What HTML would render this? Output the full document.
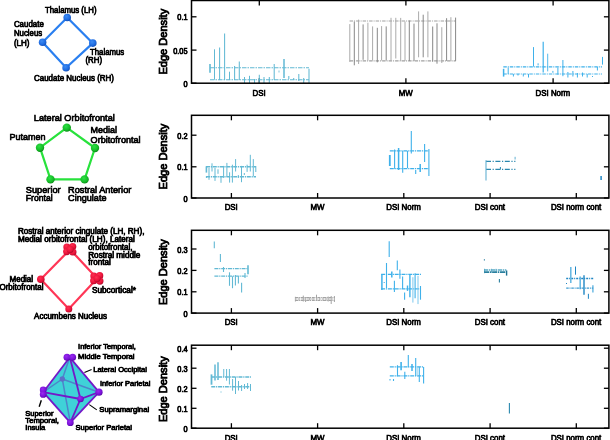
<!DOCTYPE html><html><head><meta charset="utf-8"><style>html,body{margin:0;padding:0;background:#fff;}svg{display:block;will-change:transform;}text{font-family:"Liberation Sans", sans-serif;stroke:#000;stroke-width:0.72px;paint-order:stroke;}</style></head><body>
<svg width="610" height="440" viewBox="0 0 610 440">
<rect width="610" height="440" fill="#fff"/>
<line x1="191.5" y1="83.2" x2="196.5" y2="83.2" stroke="#000" stroke-width="1.3"/><line x1="608.9" y1="83.2" x2="603.9" y2="83.2" stroke="#000" stroke-width="1.3"/><text x="187.6" y="86.7" font-size="8.6" text-anchor="end" textLength="4.1" lengthAdjust="spacingAndGlyphs" fill="#000">0</text><line x1="191.5" y1="50.1" x2="196.5" y2="50.1" stroke="#000" stroke-width="1.3"/><line x1="608.9" y1="50.1" x2="603.9" y2="50.1" stroke="#000" stroke-width="1.3"/><text x="187.6" y="53.6" font-size="8.6" text-anchor="end" textLength="14.4" lengthAdjust="spacingAndGlyphs" fill="#000">0.05</text><line x1="191.5" y1="16.8" x2="196.5" y2="16.8" stroke="#000" stroke-width="1.3"/><line x1="608.9" y1="16.8" x2="603.9" y2="16.8" stroke="#000" stroke-width="1.3"/><text x="187.6" y="20.3" font-size="8.6" text-anchor="end" textLength="10.3" lengthAdjust="spacingAndGlyphs" fill="#000">0.1</text><line x1="259.3" y1="83.2" x2="259.3" y2="78.2" stroke="#000" stroke-width="1.3"/><line x1="259.3" y1="0.5" x2="259.3" y2="5.5" stroke="#000" stroke-width="1.3"/><text x="259.1" y="95.5" font-size="9" text-anchor="middle" textLength="13.15" lengthAdjust="spacingAndGlyphs" fill="#000">DSI</text><line x1="405.9" y1="83.2" x2="405.9" y2="78.2" stroke="#000" stroke-width="1.3"/><line x1="405.9" y1="0.5" x2="405.9" y2="5.5" stroke="#000" stroke-width="1.3"/><text x="405.7" y="95.5" font-size="9" text-anchor="middle" textLength="14.0" lengthAdjust="spacingAndGlyphs" fill="#000">MW</text><line x1="553.1" y1="83.2" x2="553.1" y2="78.2" stroke="#000" stroke-width="1.3"/><line x1="553.1" y1="0.5" x2="553.1" y2="5.5" stroke="#000" stroke-width="1.3"/><text x="552.9" y="95.5" font-size="9" text-anchor="middle" textLength="34.6" lengthAdjust="spacingAndGlyphs" fill="#000">DSI Norm</text><text transform="translate(166.6 41.7) rotate(-90)" x="0" y="0" font-size="10.4" text-anchor="middle" textLength="65.8" lengthAdjust="spacingAndGlyphs" fill="#000" style="stroke-width:0.8px">Edge Density</text><line x1="191.5" y1="198.0" x2="196.5" y2="198.0" stroke="#000" stroke-width="1.3"/><line x1="608.9" y1="198.0" x2="603.9" y2="198.0" stroke="#000" stroke-width="1.3"/><text x="187.6" y="201.5" font-size="8.6" text-anchor="end" textLength="4.1" lengthAdjust="spacingAndGlyphs" fill="#000">0</text><line x1="191.5" y1="166.8" x2="196.5" y2="166.8" stroke="#000" stroke-width="1.3"/><line x1="608.9" y1="166.8" x2="603.9" y2="166.8" stroke="#000" stroke-width="1.3"/><text x="187.6" y="170.3" font-size="8.6" text-anchor="end" textLength="10.3" lengthAdjust="spacingAndGlyphs" fill="#000">0.1</text><line x1="191.5" y1="135.2" x2="196.5" y2="135.2" stroke="#000" stroke-width="1.3"/><line x1="608.9" y1="135.2" x2="603.9" y2="135.2" stroke="#000" stroke-width="1.3"/><text x="187.6" y="138.7" font-size="8.6" text-anchor="end" textLength="10.3" lengthAdjust="spacingAndGlyphs" fill="#000">0.2</text><line x1="231.4" y1="198.0" x2="231.4" y2="193.0" stroke="#000" stroke-width="1.3"/><line x1="231.4" y1="115.3" x2="231.4" y2="120.3" stroke="#000" stroke-width="1.3"/><text x="231.20000000000002" y="210.3" font-size="9" text-anchor="middle" textLength="13.15" lengthAdjust="spacingAndGlyphs" fill="#000">DSI</text><line x1="317.6" y1="198.0" x2="317.6" y2="193.0" stroke="#000" stroke-width="1.3"/><line x1="317.6" y1="115.3" x2="317.6" y2="120.3" stroke="#000" stroke-width="1.3"/><text x="317.40000000000003" y="210.3" font-size="9" text-anchor="middle" textLength="14.0" lengthAdjust="spacingAndGlyphs" fill="#000">MW</text><line x1="403.8" y1="198.0" x2="403.8" y2="193.0" stroke="#000" stroke-width="1.3"/><line x1="403.8" y1="115.3" x2="403.8" y2="120.3" stroke="#000" stroke-width="1.3"/><text x="403.6" y="210.3" font-size="9" text-anchor="middle" textLength="34.6" lengthAdjust="spacingAndGlyphs" fill="#000">DSI Norm</text><line x1="490.1" y1="198.0" x2="490.1" y2="193.0" stroke="#000" stroke-width="1.3"/><line x1="490.1" y1="115.3" x2="490.1" y2="120.3" stroke="#000" stroke-width="1.3"/><text x="489.90000000000003" y="210.3" font-size="9" text-anchor="middle" textLength="30.3" lengthAdjust="spacingAndGlyphs" fill="#000">DSI cont</text><line x1="576.3" y1="198.0" x2="576.3" y2="193.0" stroke="#000" stroke-width="1.3"/><line x1="576.3" y1="115.3" x2="576.3" y2="120.3" stroke="#000" stroke-width="1.3"/><text x="576.0999999999999" y="210.3" font-size="9" text-anchor="middle" textLength="50.4" lengthAdjust="spacingAndGlyphs" fill="#000">DSI norm cont</text><text transform="translate(166.6 156.6) rotate(-90)" x="0" y="0" font-size="10.4" text-anchor="middle" textLength="65.8" lengthAdjust="spacingAndGlyphs" fill="#000" style="stroke-width:0.8px">Edge Density</text><line x1="191.5" y1="313.1" x2="196.5" y2="313.1" stroke="#000" stroke-width="1.3"/><line x1="608.9" y1="313.1" x2="603.9" y2="313.1" stroke="#000" stroke-width="1.3"/><text x="187.6" y="316.6" font-size="8.6" text-anchor="end" textLength="4.1" lengthAdjust="spacingAndGlyphs" fill="#000">0</text><line x1="191.5" y1="291.8" x2="196.5" y2="291.8" stroke="#000" stroke-width="1.3"/><line x1="608.9" y1="291.8" x2="603.9" y2="291.8" stroke="#000" stroke-width="1.3"/><text x="187.6" y="295.3" font-size="8.6" text-anchor="end" textLength="10.3" lengthAdjust="spacingAndGlyphs" fill="#000">0.1</text><line x1="191.5" y1="270.4" x2="196.5" y2="270.4" stroke="#000" stroke-width="1.3"/><line x1="608.9" y1="270.4" x2="603.9" y2="270.4" stroke="#000" stroke-width="1.3"/><text x="187.6" y="273.9" font-size="8.6" text-anchor="end" textLength="10.3" lengthAdjust="spacingAndGlyphs" fill="#000">0.2</text><line x1="191.5" y1="249.0" x2="196.5" y2="249.0" stroke="#000" stroke-width="1.3"/><line x1="608.9" y1="249.0" x2="603.9" y2="249.0" stroke="#000" stroke-width="1.3"/><text x="187.6" y="252.5" font-size="8.6" text-anchor="end" textLength="10.3" lengthAdjust="spacingAndGlyphs" fill="#000">0.3</text><line x1="231.4" y1="313.1" x2="231.4" y2="308.1" stroke="#000" stroke-width="1.3"/><line x1="231.4" y1="230.3" x2="231.4" y2="235.3" stroke="#000" stroke-width="1.3"/><text x="231.20000000000002" y="325.40000000000003" font-size="9" text-anchor="middle" textLength="13.15" lengthAdjust="spacingAndGlyphs" fill="#000">DSI</text><line x1="317.6" y1="313.1" x2="317.6" y2="308.1" stroke="#000" stroke-width="1.3"/><line x1="317.6" y1="230.3" x2="317.6" y2="235.3" stroke="#000" stroke-width="1.3"/><text x="317.40000000000003" y="325.40000000000003" font-size="9" text-anchor="middle" textLength="14.0" lengthAdjust="spacingAndGlyphs" fill="#000">MW</text><line x1="403.8" y1="313.1" x2="403.8" y2="308.1" stroke="#000" stroke-width="1.3"/><line x1="403.8" y1="230.3" x2="403.8" y2="235.3" stroke="#000" stroke-width="1.3"/><text x="403.6" y="325.40000000000003" font-size="9" text-anchor="middle" textLength="34.6" lengthAdjust="spacingAndGlyphs" fill="#000">DSI Norm</text><line x1="490.1" y1="313.1" x2="490.1" y2="308.1" stroke="#000" stroke-width="1.3"/><line x1="490.1" y1="230.3" x2="490.1" y2="235.3" stroke="#000" stroke-width="1.3"/><text x="489.90000000000003" y="325.40000000000003" font-size="9" text-anchor="middle" textLength="30.3" lengthAdjust="spacingAndGlyphs" fill="#000">DSI cont</text><line x1="576.3" y1="313.1" x2="576.3" y2="308.1" stroke="#000" stroke-width="1.3"/><line x1="576.3" y1="230.3" x2="576.3" y2="235.3" stroke="#000" stroke-width="1.3"/><text x="576.0999999999999" y="325.40000000000003" font-size="9" text-anchor="middle" textLength="50.4" lengthAdjust="spacingAndGlyphs" fill="#000">DSI norm cont</text><text transform="translate(166.6 272.2) rotate(-90)" x="0" y="0" font-size="10.4" text-anchor="middle" textLength="65.8" lengthAdjust="spacingAndGlyphs" fill="#000" style="stroke-width:0.8px">Edge Density</text><line x1="191.5" y1="428.2" x2="196.5" y2="428.2" stroke="#000" stroke-width="1.3"/><line x1="608.9" y1="428.2" x2="603.9" y2="428.2" stroke="#000" stroke-width="1.3"/><text x="187.6" y="431.7" font-size="8.6" text-anchor="end" textLength="4.1" lengthAdjust="spacingAndGlyphs" fill="#000">0</text><line x1="191.5" y1="408.3" x2="196.5" y2="408.3" stroke="#000" stroke-width="1.3"/><line x1="608.9" y1="408.3" x2="603.9" y2="408.3" stroke="#000" stroke-width="1.3"/><text x="187.6" y="411.8" font-size="8.6" text-anchor="end" textLength="10.3" lengthAdjust="spacingAndGlyphs" fill="#000">0.1</text><line x1="191.5" y1="388.3" x2="196.5" y2="388.3" stroke="#000" stroke-width="1.3"/><line x1="608.9" y1="388.3" x2="603.9" y2="388.3" stroke="#000" stroke-width="1.3"/><text x="187.6" y="391.8" font-size="8.6" text-anchor="end" textLength="10.3" lengthAdjust="spacingAndGlyphs" fill="#000">0.2</text><line x1="191.5" y1="368.2" x2="196.5" y2="368.2" stroke="#000" stroke-width="1.3"/><line x1="608.9" y1="368.2" x2="603.9" y2="368.2" stroke="#000" stroke-width="1.3"/><text x="187.6" y="371.7" font-size="8.6" text-anchor="end" textLength="10.3" lengthAdjust="spacingAndGlyphs" fill="#000">0.3</text><line x1="191.5" y1="348.2" x2="196.5" y2="348.2" stroke="#000" stroke-width="1.3"/><line x1="608.9" y1="348.2" x2="603.9" y2="348.2" stroke="#000" stroke-width="1.3"/><text x="187.6" y="351.7" font-size="8.6" text-anchor="end" textLength="10.3" lengthAdjust="spacingAndGlyphs" fill="#000">0.4</text><line x1="231.4" y1="428.2" x2="231.4" y2="423.2" stroke="#000" stroke-width="1.3"/><line x1="231.4" y1="345.2" x2="231.4" y2="350.2" stroke="#000" stroke-width="1.3"/><text x="231.20000000000002" y="440.5" font-size="9" text-anchor="middle" textLength="13.15" lengthAdjust="spacingAndGlyphs" fill="#000">DSI</text><line x1="317.6" y1="428.2" x2="317.6" y2="423.2" stroke="#000" stroke-width="1.3"/><line x1="317.6" y1="345.2" x2="317.6" y2="350.2" stroke="#000" stroke-width="1.3"/><text x="317.40000000000003" y="440.5" font-size="9" text-anchor="middle" textLength="14.0" lengthAdjust="spacingAndGlyphs" fill="#000">MW</text><line x1="403.8" y1="428.2" x2="403.8" y2="423.2" stroke="#000" stroke-width="1.3"/><line x1="403.8" y1="345.2" x2="403.8" y2="350.2" stroke="#000" stroke-width="1.3"/><text x="403.6" y="440.5" font-size="9" text-anchor="middle" textLength="34.6" lengthAdjust="spacingAndGlyphs" fill="#000">DSI Norm</text><line x1="490.1" y1="428.2" x2="490.1" y2="423.2" stroke="#000" stroke-width="1.3"/><line x1="490.1" y1="345.2" x2="490.1" y2="350.2" stroke="#000" stroke-width="1.3"/><text x="489.90000000000003" y="440.5" font-size="9" text-anchor="middle" textLength="30.3" lengthAdjust="spacingAndGlyphs" fill="#000">DSI cont</text><line x1="576.3" y1="428.2" x2="576.3" y2="423.2" stroke="#000" stroke-width="1.3"/><line x1="576.3" y1="345.2" x2="576.3" y2="350.2" stroke="#000" stroke-width="1.3"/><text x="576.0999999999999" y="440.5" font-size="9" text-anchor="middle" textLength="50.4" lengthAdjust="spacingAndGlyphs" fill="#000">DSI norm cont</text><text transform="translate(166.6 389.2) rotate(-90)" x="0" y="0" font-size="10.4" text-anchor="middle" textLength="65.8" lengthAdjust="spacingAndGlyphs" fill="#000" style="stroke-width:0.8px">Edge Density</text>
<g stroke="#62b9d4" opacity="1"><line x1="210" y1="67.8" x2="309" y2="67.8" stroke-width="1.1" stroke-dasharray="4.5 1 1.5 1"/><line x1="210" y1="79.8" x2="309" y2="79.8" stroke-width="1.1" stroke-dasharray="4.5 1 1.5 1"/><line x1="210" y1="63.9" x2="210" y2="72.7" stroke-width="1.6"/><line x1="214.5" y1="49.3" x2="214.5" y2="79.6" stroke-width="1.05"/><line x1="219.6" y1="47.5" x2="219.6" y2="80" stroke-width="1.05"/><line x1="224.6" y1="33.5" x2="224.6" y2="80" stroke-width="1.05"/><line x1="229.5" y1="71.7" x2="229.5" y2="80" stroke-width="1.05"/><line x1="234.6" y1="66" x2="234.6" y2="80" stroke-width="1.05"/><line x1="239.3" y1="61.6" x2="239.3" y2="80" stroke-width="1.05"/><line x1="244.5" y1="77" x2="244.5" y2="83" stroke-width="1.05"/><line x1="249.5" y1="75.8" x2="249.5" y2="83" stroke-width="1.05"/><line x1="254.5" y1="79" x2="254.5" y2="83" stroke-width="1.05"/><line x1="259.3" y1="74.7" x2="259.3" y2="83" stroke-width="1.05"/><line x1="264" y1="77" x2="264" y2="83" stroke-width="1.05"/><line x1="269.3" y1="77" x2="269.3" y2="83" stroke-width="1.05"/><line x1="274.2" y1="64" x2="274.2" y2="80" stroke-width="1.05"/><line x1="279" y1="70.5" x2="279" y2="72.5" stroke-width="0.8"/><line x1="284" y1="59" x2="284" y2="78" stroke-width="1.5"/><line x1="288.8" y1="76" x2="288.8" y2="79" stroke-width="1.05"/><line x1="293.7" y1="78" x2="293.7" y2="80" stroke-width="1.05"/><line x1="298.8" y1="74" x2="298.8" y2="81" stroke-width="1.05"/><line x1="303.7" y1="78" x2="303.7" y2="83" stroke-width="1.05"/><line x1="309" y1="68.7" x2="309" y2="83" stroke-width="1.05"/></g><g stroke="#a8a8a8" opacity="1"><line x1="349.6" y1="21.0" x2="455.8" y2="21.0" stroke-width="1.2" stroke-dasharray="3.5 1 1 1" stroke="#a0a0a0"/><line x1="349.6" y1="60.8" x2="455.8" y2="60.8" stroke-width="1.2" stroke-dasharray="3.5 1 1 1" stroke="#a0a0a0"/><line x1="349.8" y1="24.1" x2="349.8" y2="61.9" stroke-width="1.0" stroke="#aaaaaa"/><line x1="354.3" y1="21.6" x2="354.3" y2="65.3" stroke-width="1.0" stroke="#878787"/><line x1="358.6" y1="19.6" x2="358.6" y2="64" stroke-width="1.0" stroke="#aaaaaa"/><line x1="363.1" y1="24.4" x2="363.1" y2="59.8" stroke-width="1.0" stroke="#878787"/><line x1="367.9" y1="22.7" x2="367.9" y2="60.5" stroke-width="1.0" stroke="#aaaaaa"/><line x1="372.6" y1="26.4" x2="372.6" y2="60.5" stroke-width="1.0" stroke="#aaaaaa"/><line x1="377.3" y1="27.8" x2="377.3" y2="62.3" stroke-width="1.0" stroke="#878787"/><line x1="381.6" y1="26.1" x2="381.6" y2="60.5" stroke-width="1.0" stroke="#aaaaaa"/><line x1="386.2" y1="26.4" x2="386.2" y2="60.5" stroke-width="1.0" stroke="#878787"/><line x1="391" y1="17.8" x2="391" y2="60.5" stroke-width="1.0" stroke="#aaaaaa"/><line x1="395.8" y1="17.8" x2="395.8" y2="58.5" stroke-width="1.0" stroke="#aaaaaa"/><line x1="400.7" y1="17.9" x2="400.7" y2="60.9" stroke-width="1.0" stroke="#aaaaaa"/><line x1="405" y1="21.5" x2="405" y2="60.9" stroke-width="1.0" stroke="#aaaaaa"/><line x1="409.3" y1="20.5" x2="409.3" y2="60.9" stroke-width="1.0" stroke="#878787"/><line x1="414" y1="23.6" x2="414" y2="60.9" stroke-width="1.0" stroke="#878787"/><line x1="418.6" y1="11.4" x2="418.6" y2="57.3" stroke-width="1.0" stroke="#aaaaaa"/><line x1="423.2" y1="14.7" x2="423.2" y2="57.3" stroke-width="1.0" stroke="#878787"/><line x1="427.9" y1="11.4" x2="427.9" y2="57.3" stroke-width="1.0" stroke="#aaaaaa"/><line x1="432.7" y1="26.5" x2="432.7" y2="61.6" stroke-width="1.0" stroke="#878787"/><line x1="437" y1="23.3" x2="437" y2="63.7" stroke-width="1.0" stroke="#878787"/><line x1="441.8" y1="27.2" x2="441.8" y2="63" stroke-width="1.0" stroke="#aaaaaa"/><line x1="446.6" y1="18.2" x2="446.6" y2="60.9" stroke-width="1.0" stroke="#878787"/><line x1="450.9" y1="17.2" x2="450.9" y2="60.9" stroke-width="1.0" stroke="#aaaaaa"/><line x1="455.6" y1="17.6" x2="455.6" y2="60.9" stroke-width="1.0" stroke="#878787"/></g><g stroke="#3fb1ea" opacity="1"><line x1="503.3" y1="66.8" x2="602" y2="66.8" stroke-width="1.2" stroke-dasharray="3.5 1 1 1"/><line x1="503.3" y1="74.0" x2="602" y2="74.0" stroke-width="1.2" stroke-dasharray="3.5 1 1 1"/><line x1="503.6" y1="68.8" x2="503.6" y2="76.6" stroke-width="1.5"/><line x1="508.2" y1="67.5" x2="508.2" y2="74" stroke-width="1.0"/><line x1="513.4" y1="74" x2="513.4" y2="76.5" stroke-width="1.0"/><line x1="518" y1="74" x2="518" y2="75.5" stroke-width="1.0"/><line x1="523.3" y1="74" x2="523.3" y2="76.5" stroke-width="1.0"/><line x1="528.5" y1="74" x2="528.5" y2="77.5" stroke-width="1.0"/><line x1="533.5" y1="47.1" x2="533.5" y2="66.6" stroke-width="1.0"/><line x1="538.1" y1="63.3" x2="538.1" y2="65.4" stroke-width="1.0"/><line x1="543.2" y1="41.8" x2="543.2" y2="72.4" stroke-width="1.2"/><line x1="547.7" y1="53.7" x2="547.7" y2="71.4" stroke-width="0.9"/><line x1="552.9" y1="70.9" x2="552.9" y2="72.8" stroke-width="1.0"/><line x1="557.9" y1="67.6" x2="557.9" y2="74.7" stroke-width="1.0"/><line x1="562.9" y1="60" x2="562.9" y2="76.2" stroke-width="1.0"/><line x1="567.9" y1="72" x2="567.9" y2="77.5" stroke-width="1.0"/><line x1="572.9" y1="71" x2="572.9" y2="76.5" stroke-width="1.0"/><line x1="577.4" y1="73" x2="577.4" y2="77.5" stroke-width="1.0"/><line x1="582.5" y1="72.5" x2="582.5" y2="76.5" stroke-width="1.0"/><line x1="587.2" y1="74" x2="587.2" y2="77.5" stroke-width="1.0"/><line x1="592.5" y1="76" x2="592.5" y2="77" stroke-width="1.0"/><line x1="597.4" y1="67" x2="597.4" y2="70.5" stroke-width="1.0"/><line x1="602.5" y1="56.9" x2="602.5" y2="64.6" stroke-width="1.0"/></g><g stroke="#62b9d4" opacity="1"><line x1="206" y1="166.7" x2="256" y2="166.7" stroke-width="1.4" stroke-dasharray="4 0.8 1.2 0.8"/><line x1="206" y1="176.7" x2="256" y2="176.7" stroke-width="1.4" stroke-dasharray="4 0.8 1.2 0.8"/><line x1="206.4" y1="166.3" x2="206.4" y2="172.6" stroke-width="1.6"/><line x1="206.4" y1="176" x2="206.4" y2="178" stroke-width="1.0"/><line x1="209" y1="168" x2="209" y2="179.8" stroke-width="1.0"/><line x1="212" y1="163.3" x2="212" y2="171.5" stroke-width="1.0"/><line x1="215" y1="168" x2="215" y2="180.9" stroke-width="1.0"/><line x1="218" y1="169.3" x2="218" y2="173.8" stroke-width="1.0"/><line x1="221" y1="176" x2="221" y2="182.8" stroke-width="1.0"/><line x1="223.6" y1="165.9" x2="223.6" y2="177.9" stroke-width="1.0"/><line x1="226.9" y1="162.9" x2="226.9" y2="176.75" stroke-width="1.0"/><line x1="229.6" y1="172.3" x2="229.6" y2="182.6" stroke-width="1.0"/><line x1="232.4" y1="164.7" x2="232.4" y2="182.6" stroke-width="1.0"/><line x1="235.6" y1="159.1" x2="235.6" y2="171.5" stroke-width="1.0"/><line x1="238.3" y1="175" x2="238.3" y2="178" stroke-width="1.0"/><line x1="241.5" y1="165.9" x2="241.5" y2="182.2" stroke-width="1.0"/><line x1="244.3" y1="173" x2="244.3" y2="175" stroke-width="1.0"/><line x1="247.1" y1="164.7" x2="247.1" y2="171.9" stroke-width="1.0"/><line x1="250.3" y1="154.8" x2="250.3" y2="171.5" stroke-width="1.0"/><line x1="253.3" y1="159.1" x2="253.3" y2="176.25" stroke-width="1.0"/><line x1="255.8" y1="166" x2="255.8" y2="172" stroke-width="1.0"/></g><g stroke="#3fb1ea" opacity="1"><line x1="389.8" y1="150.9" x2="428.9" y2="150.9" stroke-width="1.3" stroke-dasharray="4 0.8 1.2 0.8"/><line x1="389.8" y1="168.7" x2="428.9" y2="168.7" stroke-width="1.3" stroke-dasharray="4 0.8 1.2 0.8"/><line x1="389.8" y1="155" x2="389.8" y2="166" stroke-width="1.8"/><line x1="394.6" y1="149.5" x2="394.6" y2="168.7" stroke-width="1.1"/><line x1="398.6" y1="148" x2="398.6" y2="170" stroke-width="1.5"/><line x1="402.7" y1="151" x2="402.7" y2="172.7" stroke-width="1.1"/><line x1="407.5" y1="151" x2="407.5" y2="168" stroke-width="1.1"/><line x1="411.3" y1="131" x2="411.3" y2="153.6" stroke-width="1.1"/><line x1="415.7" y1="170" x2="415.7" y2="174" stroke-width="1.1"/><line x1="420.2" y1="164" x2="420.2" y2="172" stroke-width="1.5"/><line x1="424.6" y1="144" x2="424.6" y2="162" stroke-width="1.1"/><line x1="428.9" y1="149" x2="428.9" y2="176" stroke-width="1.1"/></g><g stroke="#2a88ae" opacity="1"><line x1="486" y1="161.3" x2="515.4" y2="161.3" stroke-width="1.3" stroke-dasharray="5 1.6 1.2 1.6"/><line x1="486" y1="169.4" x2="515.4" y2="169.4" stroke-width="1.3" stroke-dasharray="5 1.6 1.2 1.6"/><line x1="486" y1="160.2" x2="486" y2="180.5" stroke-width="1.1" stroke="#62b0d2"/><line x1="515.1" y1="156.8" x2="515.1" y2="159.5" stroke-width="1.0" stroke="#62b0d2"/><line x1="500.4" y1="167" x2="500.4" y2="169.4" stroke-width="1.0"/></g><g stroke="#1f86c4" opacity="1"><line x1="601.1" y1="176" x2="601.1" y2="180" stroke-width="1.5"/></g><g stroke="#62b9d4" opacity="1"><line x1="214.4" y1="268.6" x2="248.2" y2="268.6" stroke-width="1.3" stroke-dasharray="4 0.8 1.2 0.8"/><line x1="214.4" y1="276.1" x2="248.2" y2="276.1" stroke-width="1.3" stroke-dasharray="4 0.8 1.2 0.8"/><line x1="214.3" y1="241.6" x2="214.3" y2="248.3" stroke-width="1.1"/><line x1="220.4" y1="253.9" x2="220.4" y2="261.9" stroke-width="1.1"/><line x1="223.5" y1="267" x2="223.5" y2="272" stroke-width="1.1"/><line x1="229.5" y1="272.3" x2="229.5" y2="285.8" stroke-width="1.1"/><line x1="232.5" y1="276.3" x2="232.5" y2="288.2" stroke-width="1.1"/><line x1="235.4" y1="275" x2="235.4" y2="285.4" stroke-width="1.1"/><line x1="238.4" y1="276" x2="238.4" y2="283.4" stroke-width="1.1"/><line x1="241.6" y1="282.7" x2="241.6" y2="292.6" stroke-width="1.1"/><line x1="245" y1="273" x2="245" y2="278" stroke-width="1.1"/><line x1="248" y1="265.2" x2="248" y2="274.3" stroke-width="1.6"/></g><g stroke="#a4a4a4" opacity="1"><line x1="295" y1="297.6" x2="335" y2="297.6" stroke-width="1.2" stroke-dasharray="3 0.8 1 0.8"/><line x1="295" y1="300.4" x2="335" y2="300.4" stroke-width="1.2" stroke-dasharray="3 0.8 1 0.8"/><line x1="295.4" y1="296.8" x2="295.4" y2="301.5" stroke-width="1.0"/><line x1="299" y1="297" x2="299" y2="301" stroke-width="0.8"/><line x1="303.3" y1="295.6" x2="303.3" y2="301.5" stroke-width="1.0"/><line x1="305.6" y1="297" x2="305.6" y2="302" stroke-width="1.0"/><line x1="309.5" y1="297" x2="309.5" y2="300.5" stroke-width="0.8"/><line x1="313" y1="297" x2="313" y2="301" stroke-width="0.8"/><line x1="316.5" y1="294.7" x2="316.5" y2="301" stroke-width="1.0"/><line x1="319.5" y1="297" x2="319.5" y2="300.5" stroke-width="0.8"/><line x1="323" y1="297" x2="323" y2="301" stroke-width="0.8"/><line x1="326" y1="297" x2="326" y2="301" stroke-width="0.8"/><line x1="328.2" y1="296.5" x2="328.2" y2="301.5" stroke-width="1.0"/><line x1="331.2" y1="296" x2="331.2" y2="304" stroke-width="1.0"/><line x1="334.4" y1="296" x2="334.4" y2="302" stroke-width="1.0"/></g><g stroke="#c4c4c4" opacity="1"><line x1="295" y1="299.0" x2="335" y2="299.0" stroke-width="1.2" stroke-dasharray="2 1"/></g><g stroke="#3fb1ea" opacity="1"><line x1="381.1" y1="274.4" x2="421" y2="274.4" stroke-width="1.3" stroke-dasharray="4 0.8 1.2 0.8"/><line x1="381.1" y1="288.9" x2="421" y2="288.9" stroke-width="1.3" stroke-dasharray="4 0.8 1.2 0.8"/><line x1="381.9" y1="274.2" x2="381.9" y2="290" stroke-width="1.5"/><line x1="384.2" y1="282" x2="384.2" y2="283" stroke-width="1.1"/><line x1="386.5" y1="263" x2="386.5" y2="288" stroke-width="1.1"/><line x1="389.2" y1="241.3" x2="389.2" y2="257.1" stroke-width="1.1"/><line x1="391.8" y1="271.6" x2="391.8" y2="277.5" stroke-width="1.5"/><line x1="394.4" y1="280.8" x2="394.4" y2="292" stroke-width="1.1"/><line x1="397.3" y1="260.4" x2="397.3" y2="270.3" stroke-width="1.1"/><line x1="399.9" y1="269.5" x2="399.9" y2="278.7" stroke-width="1.1"/><line x1="402.6" y1="276.5" x2="402.6" y2="289" stroke-width="1.1"/><line x1="404.6" y1="292.4" x2="404.6" y2="299.7" stroke-width="1.1"/><line x1="407.5" y1="285.5" x2="407.5" y2="290.9" stroke-width="1.4"/><line x1="409.9" y1="274.3" x2="409.9" y2="297.3" stroke-width="1.4"/><line x1="412.9" y1="277.2" x2="412.9" y2="302.6" stroke-width="1.0" stroke="#7cc8ee"/><line x1="415.1" y1="273.3" x2="415.1" y2="298.2" stroke-width="1.1"/><line x1="418" y1="275.8" x2="418" y2="304.1" stroke-width="1.0" stroke="#7cc8ee"/><line x1="420.5" y1="286" x2="420.5" y2="299.7" stroke-width="1.1"/></g><g stroke="#5aaac6" opacity="1"><line x1="484.2" y1="269.9" x2="506.3" y2="269.9" stroke-width="1.5" stroke-dasharray="4 0.7 1.5 0.7"/><line x1="484.4" y1="259.2" x2="484.4" y2="260.6" stroke-width="1.1" stroke="#2a7f9f"/><line x1="484.5" y1="268.8" x2="484.5" y2="273.2" stroke-width="1.0"/><line x1="491.5" y1="268.8" x2="491.5" y2="272.5" stroke-width="0.8"/><line x1="496" y1="268.8" x2="496" y2="272.5" stroke-width="0.8"/><line x1="506.6" y1="270.5" x2="506.6" y2="275.6" stroke-width="1.4" stroke="#1c6f90"/><line x1="499.4" y1="279" x2="499.4" y2="282.5" stroke-width="1.1" stroke="#2a7f9f"/></g><g stroke="#2a809f" opacity="1"><line x1="484.2" y1="272.2" x2="506.3" y2="272.2" stroke-width="1.7" stroke-dasharray="5 0.7 1.5 0.7"/></g><g stroke="#1f86c4" opacity="1"><line x1="566.2" y1="278.5" x2="593.2" y2="278.5" stroke-width="1.3" stroke-dasharray="2 1 1 1"/><line x1="570.8" y1="267" x2="570.8" y2="282.9" stroke-width="1.5" stroke="#62b6e2"/><line x1="575.5" y1="266.5" x2="575.5" y2="274.7" stroke-width="1.0"/><line x1="580.2" y1="276.5" x2="580.2" y2="289.3" stroke-width="1.5" stroke="#62b6e2"/><line x1="584" y1="275.2" x2="584" y2="294.7" stroke-width="1.4"/><line x1="588.4" y1="293.8" x2="588.4" y2="298.8" stroke-width="1.0"/><line x1="592.9" y1="285.2" x2="592.9" y2="292.5" stroke-width="1.4" stroke="#62b6e2"/><line x1="566.5" y1="283" x2="566.5" y2="284" stroke-width="1.0"/></g><g stroke="#3c9ad0" opacity="1"><line x1="566.2" y1="288.1" x2="593.2" y2="288.1" stroke-width="1.3" stroke-dasharray="2.5 0.8 1 0.8"/></g><g stroke="#62b9d4" opacity="1"><line x1="211.25" y1="377" x2="251" y2="377" stroke-width="1.4" stroke-dasharray="4 0.8 1.2 0.8"/><line x1="211.25" y1="386.7" x2="251" y2="386.7" stroke-width="1.4" stroke-dasharray="4 0.8 1.2 0.8"/><line x1="211.5" y1="374.4" x2="211.5" y2="384.7" stroke-width="1.8"/><line x1="215" y1="364.5" x2="215" y2="380.5" stroke-width="1.5"/><line x1="218" y1="362.3" x2="218" y2="380" stroke-width="1.5"/><line x1="221" y1="391.5" x2="221" y2="392.5" stroke-width="1.0"/><line x1="223.75" y1="369" x2="223.75" y2="377" stroke-width="1.0"/><line x1="226.6" y1="369" x2="226.6" y2="380.7" stroke-width="1.0"/><line x1="229.4" y1="369" x2="229.4" y2="384.5" stroke-width="1.0"/><line x1="232.6" y1="379" x2="232.6" y2="390.7" stroke-width="1.0"/><line x1="235.5" y1="377" x2="235.5" y2="394" stroke-width="1.0"/><line x1="238.5" y1="381" x2="238.5" y2="390.5" stroke-width="1.0"/><line x1="241.6" y1="385" x2="241.6" y2="391" stroke-width="1.0"/><line x1="244.5" y1="384" x2="244.5" y2="389" stroke-width="1.0"/><line x1="247.6" y1="383" x2="247.6" y2="389" stroke-width="1.0"/><line x1="250.5" y1="384" x2="250.5" y2="391" stroke-width="1.0"/></g><g stroke="#3fb1ea" opacity="1"><line x1="389.8" y1="366.8" x2="423.9" y2="366.8" stroke-width="1.3" stroke-dasharray="4 0.8 1.2 0.8"/><line x1="389.8" y1="375.9" x2="423.9" y2="375.9" stroke-width="1.3" stroke-dasharray="4 0.8 1.2 0.8"/><line x1="390" y1="379" x2="390" y2="380.5" stroke-width="1.1"/><line x1="393.5" y1="379" x2="393.5" y2="381" stroke-width="1.1"/><line x1="397.5" y1="365.2" x2="397.5" y2="376.25" stroke-width="1.1"/><line x1="401.1" y1="362" x2="401.1" y2="370.2" stroke-width="1.6"/><line x1="404.8" y1="371.7" x2="404.8" y2="379" stroke-width="1.1"/><line x1="408.3" y1="355" x2="408.3" y2="367.2" stroke-width="1.1"/><line x1="412" y1="364" x2="412" y2="371" stroke-width="1.5"/><line x1="415.7" y1="358" x2="415.7" y2="376" stroke-width="1.1"/><line x1="417.3" y1="366" x2="417.3" y2="376" stroke-width="0.8" stroke="#8ad0f0"/><line x1="419.3" y1="367" x2="419.3" y2="382" stroke-width="1.1"/><line x1="423.6" y1="367" x2="423.6" y2="383.6" stroke-width="1.1"/></g><g stroke="#2a88ae" opacity="1"><line x1="509.4" y1="403" x2="509.4" y2="413.5" stroke-width="1.1"/></g>
<rect x="191.5" y="0.5" width="417.4" height="82.7" fill="none" stroke="#000" stroke-width="1.5"/><rect x="191.5" y="115.3" width="417.4" height="82.7" fill="none" stroke="#000" stroke-width="1.5"/><rect x="191.5" y="230.3" width="417.4" height="82.80000000000001" fill="none" stroke="#000" stroke-width="1.5"/><rect x="191.5" y="345.2" width="417.4" height="83.0" fill="none" stroke="#000" stroke-width="1.5"/>
<defs><radialGradient id="gb" cx="0.4" cy="0.35" r="0.65"><stop offset="0" stop-color="#3d8cf5"/><stop offset="0.7" stop-color="#1e6be0"/><stop offset="1" stop-color="#1550b8"/></radialGradient><radialGradient id="gg" cx="0.4" cy="0.35" r="0.65"><stop offset="0" stop-color="#2ee046"/><stop offset="0.7" stop-color="#14bc26"/><stop offset="1" stop-color="#0c8c18"/></radialGradient><radialGradient id="gr" cx="0.4" cy="0.35" r="0.65"><stop offset="0" stop-color="#ff3050"/><stop offset="0.7" stop-color="#e8123a"/><stop offset="1" stop-color="#b00828"/></radialGradient><radialGradient id="gp" cx="0.4" cy="0.35" r="0.65"><stop offset="0" stop-color="#9a2cf0"/><stop offset="0.7" stop-color="#7a10d8"/><stop offset="1" stop-color="#5a08a8"/></radialGradient></defs>
<polygon points="67.2,17.5 92.8,43.1 66.1,67.8 42.6,42.3" fill="none" stroke="#2a7ff0" stroke-width="2.2"/>
<circle cx="67.2" cy="17.5" r="3.8" fill="url(#gb)"/>
<circle cx="92.8" cy="43.1" r="3.8" fill="url(#gb)"/>
<circle cx="66.1" cy="67.8" r="3.8" fill="url(#gb)"/>
<circle cx="42.6" cy="42.3" r="3.8" fill="url(#gb)"/>
<text x="45.0" y="12.5" font-size="8.8" text-anchor="start" textLength="51.5" lengthAdjust="spacingAndGlyphs" fill="#000">Thalamus (LH)</text>
<text x="13.9" y="27.3" font-size="8.8" text-anchor="start" textLength="29.9" lengthAdjust="spacingAndGlyphs" fill="#000">Caudate</text>
<text x="13.9" y="36.3" font-size="8.8" text-anchor="start" textLength="28.3" lengthAdjust="spacingAndGlyphs" fill="#000">Nucleus</text>
<text x="13.9" y="45.6" font-size="8.8" text-anchor="start" textLength="15.6" lengthAdjust="spacingAndGlyphs" fill="#000">(LH)</text>
<text x="90.0" y="55.3" font-size="8.8" text-anchor="start" textLength="34.2" lengthAdjust="spacingAndGlyphs" fill="#000">Thalamus</text>
<text x="85.5" y="63.0" font-size="8.8" text-anchor="start" textLength="16.6" lengthAdjust="spacingAndGlyphs" fill="#000">(RH)</text>
<text x="34.0" y="81.4" font-size="8.8" text-anchor="start" textLength="80.0" lengthAdjust="spacingAndGlyphs" fill="#000">Caudate Nucleus (RH)</text>
<polygon points="66.8,127.6 95,148 84.6,179.4 50.5,179.4 40,147.7" fill="none" stroke="#28e23c" stroke-width="2.2"/>
<circle cx="66.8" cy="127.6" r="4.2" fill="url(#gg)"/>
<circle cx="95" cy="148" r="4.2" fill="url(#gg)"/>
<circle cx="84.6" cy="179.4" r="4.2" fill="url(#gg)"/>
<circle cx="50.5" cy="179.4" r="4.2" fill="url(#gg)"/>
<circle cx="40" cy="147.7" r="4.2" fill="url(#gg)"/>
<text x="33.8" y="121.0" font-size="9.9" text-anchor="start" textLength="81.0" lengthAdjust="spacingAndGlyphs" fill="#000">Lateral Orbitofrontal</text>
<text x="9.5" y="139.6" font-size="9.9" text-anchor="start" textLength="36.0" lengthAdjust="spacingAndGlyphs" fill="#000">Putamen</text>
<text x="90.6" y="133.2" font-size="9.9" text-anchor="start" textLength="26.51" lengthAdjust="spacingAndGlyphs" fill="#000">Medial</text>
<text x="90.6" y="142.5" font-size="9.9" text-anchor="start" textLength="50.0" lengthAdjust="spacingAndGlyphs" fill="#000">Orbitofrontal</text>
<text x="25.8" y="192.6" font-size="9.9" text-anchor="start" textLength="34.9" lengthAdjust="spacingAndGlyphs" fill="#000">Superior</text>
<text x="25.8" y="200.5" font-size="9.9" text-anchor="start" textLength="26.8" lengthAdjust="spacingAndGlyphs" fill="#000">Frontal</text>
<text x="68.1" y="192.6" font-size="9.9" text-anchor="start" textLength="63.2" lengthAdjust="spacingAndGlyphs" fill="#000">Rostral Anterior</text>
<text x="68.1" y="200.5" font-size="9.9" text-anchor="start" textLength="38.4" lengthAdjust="spacingAndGlyphs" fill="#000">Cingulate</text>
<polygon points="70.1,249.4 97.1,278.5 68.8,309.0 40.8,279.3" fill="none" stroke="#ff3656" stroke-width="2.2"/>
<circle cx="66.89999999999999" cy="247.0" r="3.6" fill="url(#gr)"/>
<circle cx="72.69999999999999" cy="246.6" r="3.6" fill="url(#gr)"/>
<circle cx="66.69999999999999" cy="251.6" r="3.6" fill="url(#gr)"/>
<circle cx="72.89999999999999" cy="252.0" r="3.6" fill="url(#gr)"/>
<circle cx="70.1" cy="249.4" r="3.6" fill="url(#gr)"/>
<circle cx="93.89999999999999" cy="276.1" r="3.6" fill="url(#gr)"/>
<circle cx="99.69999999999999" cy="275.7" r="3.6" fill="url(#gr)"/>
<circle cx="93.69999999999999" cy="280.7" r="3.6" fill="url(#gr)"/>
<circle cx="99.89999999999999" cy="281.1" r="3.6" fill="url(#gr)"/>
<circle cx="97.1" cy="278.5" r="3.6" fill="url(#gr)"/>
<circle cx="40.8" cy="279.3" r="3.8" fill="url(#gr)"/>
<circle cx="68.8" cy="309.0" r="3.5" fill="url(#gr)"/>
<text x="17.9" y="234.4" font-size="8.16" text-anchor="start" textLength="126.5" lengthAdjust="spacingAndGlyphs" fill="#000">Rostral anterior cingulate (LH, RH),</text>
<text x="17.9" y="241.7" font-size="8.16" text-anchor="start" textLength="117.0" lengthAdjust="spacingAndGlyphs" fill="#000">Medial orbitofrontal (LH), Lateral</text>
<text x="88.2" y="249.7" font-size="8.16" text-anchor="start" textLength="44.3" lengthAdjust="spacingAndGlyphs" fill="#000">orbitofrontal,</text>
<text x="88.2" y="257.6" font-size="8.16" text-anchor="start" textLength="52.2" lengthAdjust="spacingAndGlyphs" fill="#000">Rostral middle</text>
<text x="88.2" y="264.9" font-size="8.16" text-anchor="start" textLength="22.6" lengthAdjust="spacingAndGlyphs" fill="#000">frontal</text>
<text x="33.1" y="281.6" font-size="8.16" text-anchor="end" textLength="23.57" lengthAdjust="spacingAndGlyphs" fill="#000">Medial</text>
<text x="43.5" y="290.0" font-size="8.16" text-anchor="end" textLength="44.02" lengthAdjust="spacingAndGlyphs" fill="#000">Orbitofrontal</text>
<text x="91.9" y="293.0" font-size="8.16" text-anchor="start" textLength="44.1" lengthAdjust="spacingAndGlyphs" fill="#000">Subcortical*</text>
<text x="34.1" y="319.3" font-size="8.16" text-anchor="start" textLength="72.8" lengthAdjust="spacingAndGlyphs" fill="#000">Accumbens Nucleus</text>
<polygon points="69.8,357.3 99,392.2 70.3,422.7 43.2,392.2" fill="#3fd2d8" stroke="none"/>
<line x1="69.8" y1="357.3" x2="62.3" y2="379" stroke="#4f78c8" stroke-width="1.5" opacity="0.85"/>
<line x1="43.2" y1="392.2" x2="62.3" y2="379" stroke="#4f78c8" stroke-width="1.5" opacity="0.85"/>
<line x1="99" y1="392.2" x2="62.3" y2="379" stroke="#4f78c8" stroke-width="1.5" opacity="0.85"/>
<line x1="62.3" y1="379" x2="70.3" y2="422.7" stroke="#4f78c8" stroke-width="1.5" opacity="0.85"/>
<circle cx="62.3" cy="379" r="2.7" fill="#5b6fc8"/>
<line x1="69.8" y1="357.3" x2="43.2" y2="392.2" stroke="#7418c8" stroke-width="1.8"/>
<line x1="69.8" y1="357.3" x2="99" y2="392.2" stroke="#7418c8" stroke-width="1.8"/>
<line x1="69.8" y1="357.3" x2="80.5" y2="399" stroke="#7418c8" stroke-width="1.8"/>
<line x1="43.2" y1="392.2" x2="80.5" y2="399" stroke="#7418c8" stroke-width="1.8"/>
<line x1="99" y1="392.2" x2="80.5" y2="399" stroke="#7418c8" stroke-width="1.8"/>
<line x1="43.2" y1="392.2" x2="70.3" y2="422.7" stroke="#7418c8" stroke-width="1.8"/>
<line x1="99" y1="392.2" x2="70.3" y2="422.7" stroke="#7418c8" stroke-width="1.8"/>
<line x1="80.5" y1="399" x2="70.3" y2="422.7" stroke="#7418c8" stroke-width="1.8"/>
<circle cx="99" cy="392.2" r="3.6" fill="url(#gp)"/>
<circle cx="70.3" cy="422.7" r="3.4" fill="url(#gp)"/>
<circle cx="80.5" cy="399" r="3.3" fill="url(#gp)"/>
<circle cx="67.0" cy="357.3" r="3.5" fill="url(#gp)"/><circle cx="72.6" cy="357.3" r="3.5" fill="url(#gp)"/>
<circle cx="43.2" cy="390.0" r="3.4" fill="url(#gp)"/><circle cx="43.2" cy="394.4" r="3.4" fill="url(#gp)"/>
<line x1="84.4" y1="372.4" x2="91.6" y2="369.5" stroke="#000" stroke-width="1.1"/>
<line x1="89.3" y1="404.6" x2="96.8" y2="409.9" stroke="#000" stroke-width="1.1"/>
<line x1="41.3" y1="400.3" x2="39.2" y2="406.7" stroke="#000" stroke-width="1.4"/>
<text x="78.1" y="349.4" font-size="7.62" text-anchor="start" textLength="57.8" lengthAdjust="spacingAndGlyphs" fill="#000">Inferior Temporal,</text>
<text x="78.1" y="358.9" font-size="7.62" text-anchor="start" textLength="56.4" lengthAdjust="spacingAndGlyphs" fill="#000">Middle Temporal</text>
<text x="93.3" y="372.1" font-size="7.62" text-anchor="start" textLength="53.6" lengthAdjust="spacingAndGlyphs" fill="#000">Lateral Occipital</text>
<text x="99.9" y="386.2" font-size="7.62" text-anchor="start" textLength="50.4" lengthAdjust="spacingAndGlyphs" fill="#000">Inferior Parietal</text>
<text x="99.3" y="412.3" font-size="7.62" text-anchor="start" textLength="49.8" lengthAdjust="spacingAndGlyphs" fill="#000">Supramarginal</text>
<text x="75.4" y="429.8" font-size="7.62" text-anchor="start" textLength="56.6" lengthAdjust="spacingAndGlyphs" fill="#000">Superior Parietal</text>
<text x="25.3" y="415.6" font-size="7.62" text-anchor="start" textLength="28.2" lengthAdjust="spacingAndGlyphs" fill="#000">Superior</text>
<text x="25.3" y="423.0" font-size="7.62" text-anchor="start" textLength="33.7" lengthAdjust="spacingAndGlyphs" fill="#000">Temporal,</text>
<text x="25.3" y="429.8" font-size="7.62" text-anchor="start" textLength="20.0" lengthAdjust="spacingAndGlyphs" fill="#000">Insula</text>
</svg></body></html>
